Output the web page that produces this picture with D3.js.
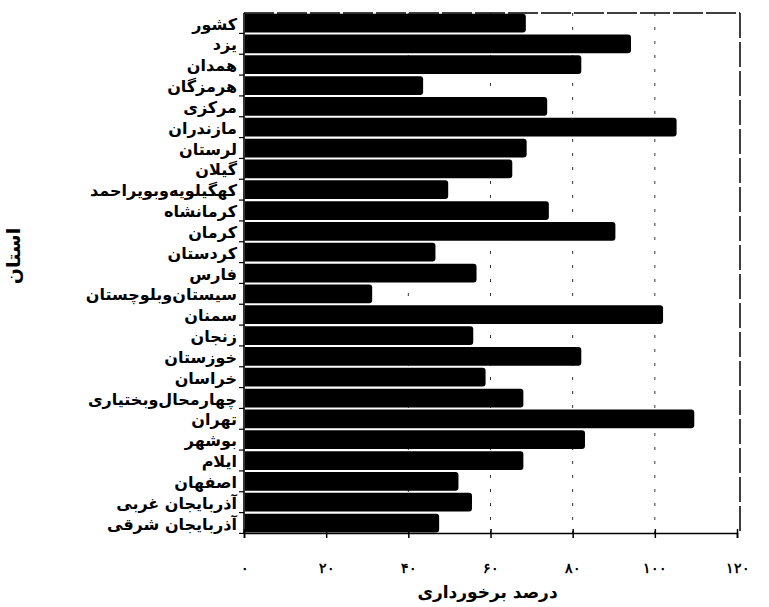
<!DOCTYPE html>
<html>
<head>
<meta charset="utf-8">
<script src="https://cdn.jsdelivr.net/npm/d3@7"></script>
<style>
    body { margin: 0; background: #fff; }
    svg { font-family: "DejaVu Sans", sans-serif; }
</style>
</head>
<body>
<svg id="chart" width="769" height="607"></svg>
<script>
// provinces, top to bottom
let provinces = ["کشور", "یزد", "همدان", "هرمزگان", "مرکزی", "مازندران", "لرستان", "گیلان",
    "کهگیلویه‌وبویراحمد", "کرمانشاه", "کرمان", "کردستان", "فارس", "سیستان‌وبلوچستان", "سمنان",
    "زنجان", "خوزستان", "خراسان", "چهارمحال‌وبختیاری", "تهران", "بوشهر", "ایلام", "اصفهان",
    "آذربایجان غربی", "آذربایجان شرقی"];

// percent of access (درصد برخورداری)
let values = [68.6, 94.2, 82.1, 43.6, 73.8, 105.3, 68.8, 65.3, 49.7, 74.2, 90.4, 46.6, 56.6,
    31.2, 102, 55.8, 82.1, 58.8, 68, 109.6, 83, 68, 52.2, 55.5, 47.5];

let xTicks = [0, 20, 40, 60, 80, 100, 120];
let gridTicks = [40, 60, 80, 100];

let svg = d3.select("#chart");
let margin = {left: 244, right: 32, top: 13, bottom: 74};
let width = 769, height = 607;

let x = d3.scaleLinear()
    .domain([0, 120])
    .range([margin.left, width - margin.right]);

let y = d3.scaleBand()
    .domain(provinces)
    .range([margin.top, height - margin.bottom])
    .paddingInner(0.1)
    .paddingOuter(0.03);

let persian = d3.format("d");
let toFa = n => persian(n).replace(/\d/g, c => "۰۱۲۳۴۵۶۷۸۹"[c]);

// dashed vertical grid
svg.append("g")
    .selectAll("line")
    .data(gridTicks)
    .join("line")
    .attr("x1", d => x(d))
    .attr("x2", d => x(d))
    .attr("y1", margin.top)
    .attr("y2", height - margin.bottom)
    .attr("stroke", "#333")
    .attr("stroke-width", 1)
    .attr("stroke-dasharray", "3,11");

// frame: top and right
svg.append("line")
    .attr("x1", margin.left).attr("x2", x(120) + 3)
    .attr("y1", margin.top).attr("y2", margin.top)
    .attr("stroke", "#000").attr("stroke-width", 1.5)
    .attr("stroke-dasharray", "30,3");
svg.append("line")
    .attr("x1", x(120) + 3).attr("x2", x(120) + 3)
    .attr("y1", margin.top).attr("y2", height - margin.bottom)
    .attr("stroke", "#000").attr("stroke-width", 1.5)
    .attr("stroke-dasharray", "25,4");

// bars with rounded right end
svg.append("g")
    .selectAll("path")
    .data(values)
    .join("path")
    .attr("d", function(d, i) {
        let x0 = x(0) + 1, x1 = x(d);
        let y0 = y(provinces[i]), h = y.bandwidth();
        let r = 3;
        return "M" + x0 + "," + y0 +
            "H" + (x1 - r) +
            "Q" + x1 + "," + y0 + " " + x1 + "," + (y0 + r) +
            "V" + (y0 + h - r) +
            "Q" + x1 + "," + (y0 + h) + " " + (x1 - r) + "," + (y0 + h) +
            "H" + x0 + "Z";
    })
    .attr("fill", "#000");

// x axis
let xAxis = d3.axisBottom(x)
    .tickValues(xTicks)
    .tickFormat(d => toFa(d))
    .tickSize(5)
    .tickPadding(25);

let gx = svg.append("g")
    .attr("transform", "translate(0," + (height - margin.bottom) + ")")
    .call(xAxis);
gx.select(".domain").attr("stroke", "#000").attr("stroke-width", 1.6);
gx.selectAll(".tick line").attr("stroke", "#000").attr("stroke-width", 1.5).attr("y1", -4);
gx.selectAll("text")
    .style("font-size", "14px")
    .style("font-weight", "bold")
    .attr("fill", "#000");

// y axis, ticks at band boundaries
let gy = svg.append("g")
    .attr("transform", "translate(" + margin.left + ",0)");
gy.append("line")
    .attr("x1", 0).attr("x2", 0)
    .attr("y1", margin.top).attr("y2", height - margin.bottom)
    .attr("stroke", "#000").attr("stroke-width", 1.6);
gy.selectAll("line.tk")
    .data(provinces)
    .join("line")
    .attr("class", "tk")
    .attr("x1", -5).attr("x2", 0)
    .attr("y1", d => y(d) + y.bandwidth() + y.step() * y.paddingInner() / 2)
    .attr("y2", d => y(d) + y.bandwidth() + y.step() * y.paddingInner() / 2)
    .attr("stroke", "#000")
    .attr("stroke-width", 1.2);
gy.selectAll("text")
    .data(provinces)
    .join("text")
    .attr("x", -7)
    .attr("y", d => y(d) + y.bandwidth() / 2 + 2)
    .attr("direction", "rtl")
    .attr("text-anchor", "start")
    .attr("dominant-baseline", "middle")
    .style("font-size", "16px")
    .style("font-weight", "bold")
    .text(d => d);

// axis titles
svg.append("text")
    .attr("x", (x(0) + x(120)) / 2 - 3)
    .attr("y", 598)
    .attr("text-anchor", "middle")
    .attr("direction", "rtl")
    .style("font-size", "17px")
    .style("font-weight", "bold")
    .text("درصد برخورداری");

svg.append("text")
    .attr("transform", "translate(20,256) rotate(-90)")
    .attr("text-anchor", "middle")
    .attr("direction", "rtl")
    .style("font-size", "19px")
    .style("font-weight", "bold")
    .text("استان");
</script>
</body>
</html>
